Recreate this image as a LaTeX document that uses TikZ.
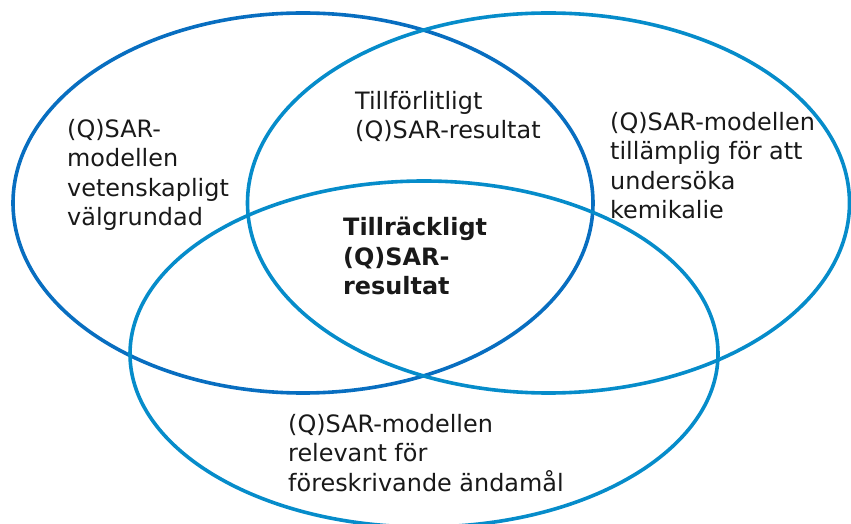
\documentclass[tikz,border=0pt]{standalone}
\usepackage{fontspec}
\setmainfont{DejaVu Sans}
\usepackage{tikz}
\definecolor{venndark}{RGB}{8,110,192}
\definecolor{vennlight}{RGB}{6,140,202}
\tikzset{
    vennline/.style={line width=3.6bp},
    venntext/.style={anchor=north west, align=left, inner sep=0pt,
        font=\fontsize{24}{29.5}\selectfont, text=black!90},
    venncore/.style={venntext, font=\fontsize{24}{29.5}\selectfont\bfseries}
}

\begin{document}
\begin{tikzpicture}[x=1bp, y=-1bp]
        \useasboundingbox (0,0) rectangle (851,524);

        \coordinate (sound) at (303,203);
        \coordinate (applicable) at (548.5,203);
        \coordinate (relevant) at (424,354);

        \draw[vennline, venndark] (sound) ellipse [x radius=290bp, y radius=190bp];
        \draw[vennline, vennlight] (applicable) ellipse [x radius=301bp, y radius=190bp];
        \draw[vennline, vennlight] (relevant) ellipse [x radius=294bp, y radius=173bp];

        \node[venntext] (soundtext) at (67,119)
            {(Q)SAR-\\modellen\\vetenskapligt\\välgrundad};
        \node[venntext] (reliabletext) at (355,91)
            {Tillförlitligt\\(Q)SAR-resultat};
        \node[venntext] (applicabletext) at (610,112)
            {(Q)SAR-modellen\\tillämplig för att\\undersöka\\kemikalie};
        \node[venncore] (coretext) at (343,217)
            {Tillräckligt\\(Q)SAR-\\resultat};
        \node[venntext] (relevanttext) at (288,414)
            {(Q)SAR-modellen\\relevant för\\föreskrivande ändamål};
    \end{tikzpicture}
\end{document}
